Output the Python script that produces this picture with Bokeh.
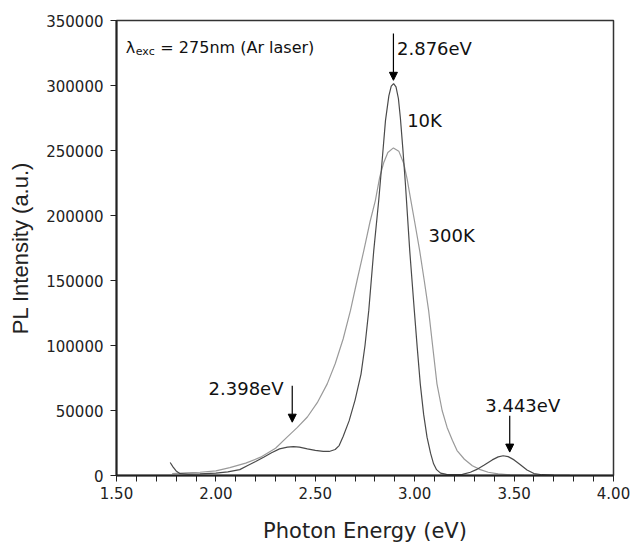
from bokeh.plotting import figure
from bokeh.models import Range1d, FixedTicker, PrintfTickFormatter, BasicTickFormatter, Arrow, NormalHead, ColumnDataSource
from bokeh.core.properties import value
from bokeh.embed import file_html
from bokeh.resources import INLINE

# 10 K spectrum (photon energy eV, PL intensity a.u.)
energy_10k = [1.77, 1.785, 1.80, 1.82, 1.86, 1.92, 2.00, 2.06, 2.12, 2.16, 2.20, 2.24, 2.28, 2.32, 2.36, 2.39,
              2.42, 2.46, 2.50, 2.54, 2.57, 2.60, 2.62, 2.64, 2.67, 2.70, 2.73, 2.75, 2.769, 2.794, 2.819, 2.835,
              2.853, 2.87, 2.882, 2.894, 2.906, 2.918, 2.928, 2.94, 2.953, 2.975, 2.998, 3.013, 3.028, 3.045,
              3.062, 3.08, 3.095, 3.11, 3.13, 3.16, 3.20, 3.24, 3.28, 3.31, 3.35, 3.39, 3.42, 3.445, 3.47, 3.50,
              3.53, 3.565, 3.60, 3.64, 3.70, 3.78]
pl_10k = [10000, 6500, 3500, 1400, 1100, 1200, 1800, 2800, 4500, 7700, 10800, 14100, 17500, 20500, 21800, 22200,
          21800, 20500, 19300, 18500, 18500, 20000, 23000, 30000, 42000, 58000, 78000, 100000, 127000, 173000,
          211500, 240000, 273000, 292000, 299500, 301500, 299000, 290000, 275000, 252000, 225000, 173000, 127000,
          98000, 70500, 47000, 29500, 17000, 9000, 4500, 1800, 800, 700, 900, 2500, 4500, 8000, 12000, 14300,
          15200, 14500, 12000, 8500, 4200, 1500, 600, 300, 200]

# 300 K spectrum
energy_300k = [1.78, 1.85, 1.92, 2.00, 2.07, 2.15, 2.225, 2.30, 2.358, 2.41, 2.46, 2.51, 2.56, 2.60, 2.64, 2.677,
               2.71, 2.744, 2.775, 2.802, 2.824, 2.845, 2.865, 2.893, 2.92, 2.945, 2.962, 2.978, 3.00, 3.025,
               3.048, 3.07, 3.09, 3.112, 3.138, 3.163, 3.19, 3.213, 3.25, 3.29, 3.33, 3.37, 3.42, 3.48, 3.55]
pl_300k = [1500, 2000, 2500, 3500, 6000, 9500, 14100, 21000, 29500, 37000, 45000, 56000, 70500, 86000, 105000,
           127000, 150000, 173000, 195000, 211500, 229500, 241000, 248500, 252000, 249500, 240000, 228000, 214000,
           195000, 173000, 150000, 127000, 100000, 70500, 50000, 37000, 27000, 19200, 12500, 7500, 4500, 2500,
           1200, 500, 200]

x_ticks = [1.5, 2.0, 2.5, 3.0, 3.5, 4.0]
x_minor = [1.6, 1.7, 1.8, 1.9, 2.1, 2.2, 2.3, 2.4, 2.6, 2.7, 2.8, 2.9, 3.1, 3.2, 3.3, 3.4, 3.6, 3.7, 3.8, 3.9]
y_ticks = [0, 50000, 100000, 150000, 200000, 250000, 300000, 350000]

# peak annotations: (label, arrow x, arrow top, arrow tip)
peak_labels = ["2.876eV", "2.398eV", "3.443eV"]
arrow_x = [2.893, 2.384, 3.478]
arrow_top = [340000, 69000, 46000]
arrow_tip = [304000, 41000, 18000]

p = figure(width=633, height=546, output_backend="svg", toolbar_location=None,
           x_range=Range1d(1.5, 4.0), y_range=Range1d(0, 350000),
           min_border_left=116, min_border_right=20, min_border_top=20, min_border_bottom=71)
p.grid.visible = False
p.background_fill_color = "white"
p.border_fill_color = "white"
p.outline_line_color = "#333333"
p.outline_line_width = 1.5

p.line(energy_300k, pl_300k, line_color="#9a9a9a", line_width=1.2)
p.line(energy_10k, pl_10k, line_color="#4a4a4a", line_width=1.2)

# axes
p.xaxis.ticker = FixedTicker(ticks=x_ticks, minor_ticks=x_minor)
p.xaxis.formatter = PrintfTickFormatter(format="%.2f")
p.yaxis.ticker = FixedTicker(ticks=y_ticks)
p.yaxis.formatter = BasicTickFormatter(use_scientific=False)
for ax in (p.xaxis, p.yaxis):
    ax.axis_line_color = "#222222"
    ax.axis_line_width = 2
    ax.major_tick_in = 0
    ax.major_tick_out = 6
    ax.major_tick_line_color = "#222222"
    ax.major_tick_line_width = 1
    ax.major_label_text_font = "DejaVu Sans"
    ax.major_label_text_font_size = "15px"
    ax.major_label_text_color = "#222222"
p.xaxis.minor_tick_in = 0
p.xaxis.minor_tick_out = 6
p.xaxis.minor_tick_line_color = "#222222"
p.yaxis.minor_tick_line_color = None
p.xaxis.major_label_standoff = 5
p.yaxis.major_label_standoff = 7

p.xaxis.axis_label = "Photon Energy (eV)"
p.xaxis.axis_label_text_font = "DejaVu Sans"
p.xaxis.axis_label_text_font_size = "21px"
p.xaxis.axis_label_text_font_style = "normal"
p.xaxis.axis_label_text_color = "#222222"
p.xaxis.axis_label_standoff = 17
p.yaxis.axis_label = "PL Intensity (a.u.)"
p.yaxis.axis_label_text_font = "Liberation Sans"
p.yaxis.axis_label_text_font_size = "22px"
p.yaxis.axis_label_text_font_style = "normal"
p.yaxis.axis_label_text_color = "#222222"
p.yaxis.axis_label_standoff = 10

# arrows
for xa, yt, yb in zip(arrow_x, arrow_top, arrow_tip):
    p.add_layout(Arrow(x_start=xa, y_start=yt, x_end=xa, y_end=yb, line_color="black", line_width=1.2,
                       end=NormalHead(size=8, fill_color="black", line_color="black")))

# annotation texts
left_src = ColumnDataSource(dict(x=[2.911, 2.962, 3.070, 3.355],
                                 y=[328500, 273000, 184600, 53800],
                                 t=[peak_labels[0], "10K", "300K", peak_labels[2]]))
p.text(x="x", y="y", text="t", source=left_src, text_font=value("DejaVu Sans"), text_font_size="18px",
       text_align="left", text_baseline="middle", text_color="#111111")
p.text(x=[2.340], y=[66900], text=[peak_labels[1]], text_font=value("DejaVu Sans"), text_font_size="18px",
       text_align="right", text_baseline="middle", text_color="#111111")

# excitation label with subscript
p.text(x=[1.547], y=[329200], text=["λ"], text_font=value("DejaVu Sans"), text_font_size="16px",
       text_align="left", text_baseline="alphabetic", text_color="#111111")
p.text(x=[1.597], y=[326300], text=["exc"], text_font=value("DejaVu Sans"), text_font_size="11px",
       text_align="left", text_baseline="alphabetic", text_color="#111111")
p.text(x=[1.7206], y=[329200], text=["= 275nm (Ar laser)"], text_font=value("DejaVu Sans"),
       text_font_size="16px", text_align="left", text_baseline="alphabetic", text_color="#111111")

open("out.html", "w").write(file_html(p, INLINE))
